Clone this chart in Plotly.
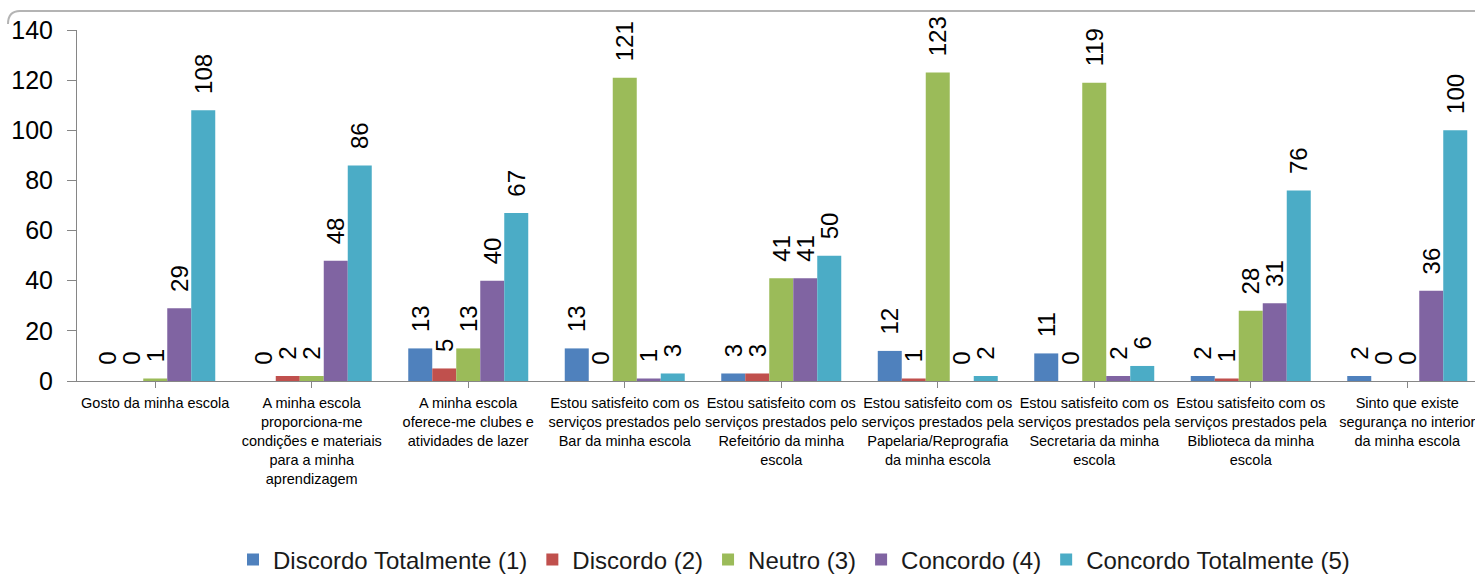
import plotly.graph_objects as go

# Survey statements (category axis)
categories = [
    "Gosto da minha escola",
    "A minha escola<br>proporciona-me<br>condições e materiais<br>para a minha<br>aprendizagem",
    "A minha escola<br>oferece-me clubes e<br>atividades de lazer",
    "Estou satisfeito com os<br>serviços prestados pelo<br>Bar da minha escola",
    "Estou satisfeito com os<br>serviços prestados pelo<br>Refeitório da minha<br>escola",
    "Estou satisfeito com os<br>serviços prestados pela<br>Papelaria/Reprografia<br>da minha escola",
    "Estou satisfeito com os<br>serviços prestados pela<br>Secretaria da minha<br>escola",
    "Estou satisfeito com os<br>serviços prestados pela<br>Biblioteca da minha<br>escola",
    "Sinto que existe<br>segurança no interior<br>da minha escola",
]

# Answer counts per Likert level
discordo_totalmente = [0, 0, 13, 13, 3, 12, 11, 2, 2]
discordo = [0, 2, 5, 0, 3, 1, 0, 1, 0]
neutro = [1, 2, 13, 121, 41, 123, 119, 28, 0]
concordo = [29, 48, 40, 1, 41, 0, 2, 31, 36]
concordo_totalmente = [108, 86, 67, 3, 50, 2, 6, 76, 100]

series_names = [
    "Discordo Totalmente (1)",
    "Discordo (2)",
    "Neutro (3)",
    "Concordo (4)",
    "Concordo Totalmente (5)",
]
series_values = [discordo_totalmente, discordo, neutro, concordo, concordo_totalmente]
series_colors = ["#4F81BD", "#C0504D", "#9BBB59", "#8064A2", "#4BACC6"]

y_ticks = [0, 20, 40, 60, 80, 100, 120, 140]

W, H = 1475, 575
M_L, M_R, M_T, M_B = 77, 0, 30, 194
PLOT_W = W - M_L - M_R
PLOT_H = H - M_T - M_B
CAT_PX = 156.5  # width of one category slot in pixels

x_idx = list(range(len(categories)))

fig = go.Figure()
for name, vals, color in zip(series_names, series_values, series_colors):
    fig.add_trace(go.Bar(
        name=name,
        x=x_idx,
        y=vals,
        marker=dict(color=color, line=dict(width=0)),
        text=vals,
        texttemplate="\u00a0\u00a0%{y}",
        textposition="outside",
        textangle=-90,
        constraintext="none",
        cliponaxis=False,
        textfont=dict(family="Liberation Sans, Arial, sans-serif", size=24, color="#000000"),
        hoverinfo="skip",
    ))


def px_to_paper(px, py):
    return (px - M_L) / PLOT_W, (H - M_B - py) / PLOT_H


# Chart frame: top border with rounded left corner
x0, y_top = px_to_paper(8, 11)
_, y_low = px_to_paper(8, 24)
x1, _ = px_to_paper(20, 11)
fig.add_shape(
    type="path", xref="paper", yref="paper",
    path=f"M {x0},{y_low} Q {x0},{y_top} {x1},{y_top} L 1,{y_top}",
    line=dict(color="#B4B4B4", width=2),
)

fig.update_layout(
    width=W, height=H,
    margin=dict(l=M_L, r=M_R, t=M_T, b=M_B, pad=0),
    paper_bgcolor="white",
    plot_bgcolor="white",
    barmode="group",
    bargap=1 - 120 / CAT_PX,
    bargroupgap=0,
    showlegend=True,
    legend=dict(
        orientation="h",
        xref="container", yref="container",
        x=794 / W, xanchor="center",
        y=(H - 560) / H, yanchor="middle",
        font=dict(family="Liberation Sans, Arial, sans-serif", size=24, color="#1a1a1a"),
        itemclick=False,
        traceorder="normal",
        bgcolor="rgba(0,0,0,0)",
    ),
    xaxis=dict(
        tickmode="array",
        tickvals=x_idx,
        ticktext=categories,
        range=[-0.5, -0.5 + PLOT_W / CAT_PX],
        showline=True, linecolor="#868686", linewidth=1,
        ticks="outside", tickson="boundaries", ticklen=6, tickcolor="#868686",
        tickfont=dict(family="Liberation Sans, Arial, sans-serif", size=14.5, color="#000000"),
        tickangle=0,
        ticklabelstandoff=3,
        ticklabeloverflow="allow",
        showgrid=False, zeroline=False,
        fixedrange=True,
    ),
    yaxis=dict(
        range=[0, 140],
        tickvals=y_ticks,
        showline=True, linecolor="#868686", linewidth=1,
        ticks="outside", ticklen=9, tickcolor="#868686",
        tickfont=dict(family="Liberation Sans, Arial, sans-serif", size=25, color="#000000"),
        ticklabelstandoff=9,
        showgrid=False, zeroline=False,
        fixedrange=True,
    ),
)

fig.write_html("out.html")
